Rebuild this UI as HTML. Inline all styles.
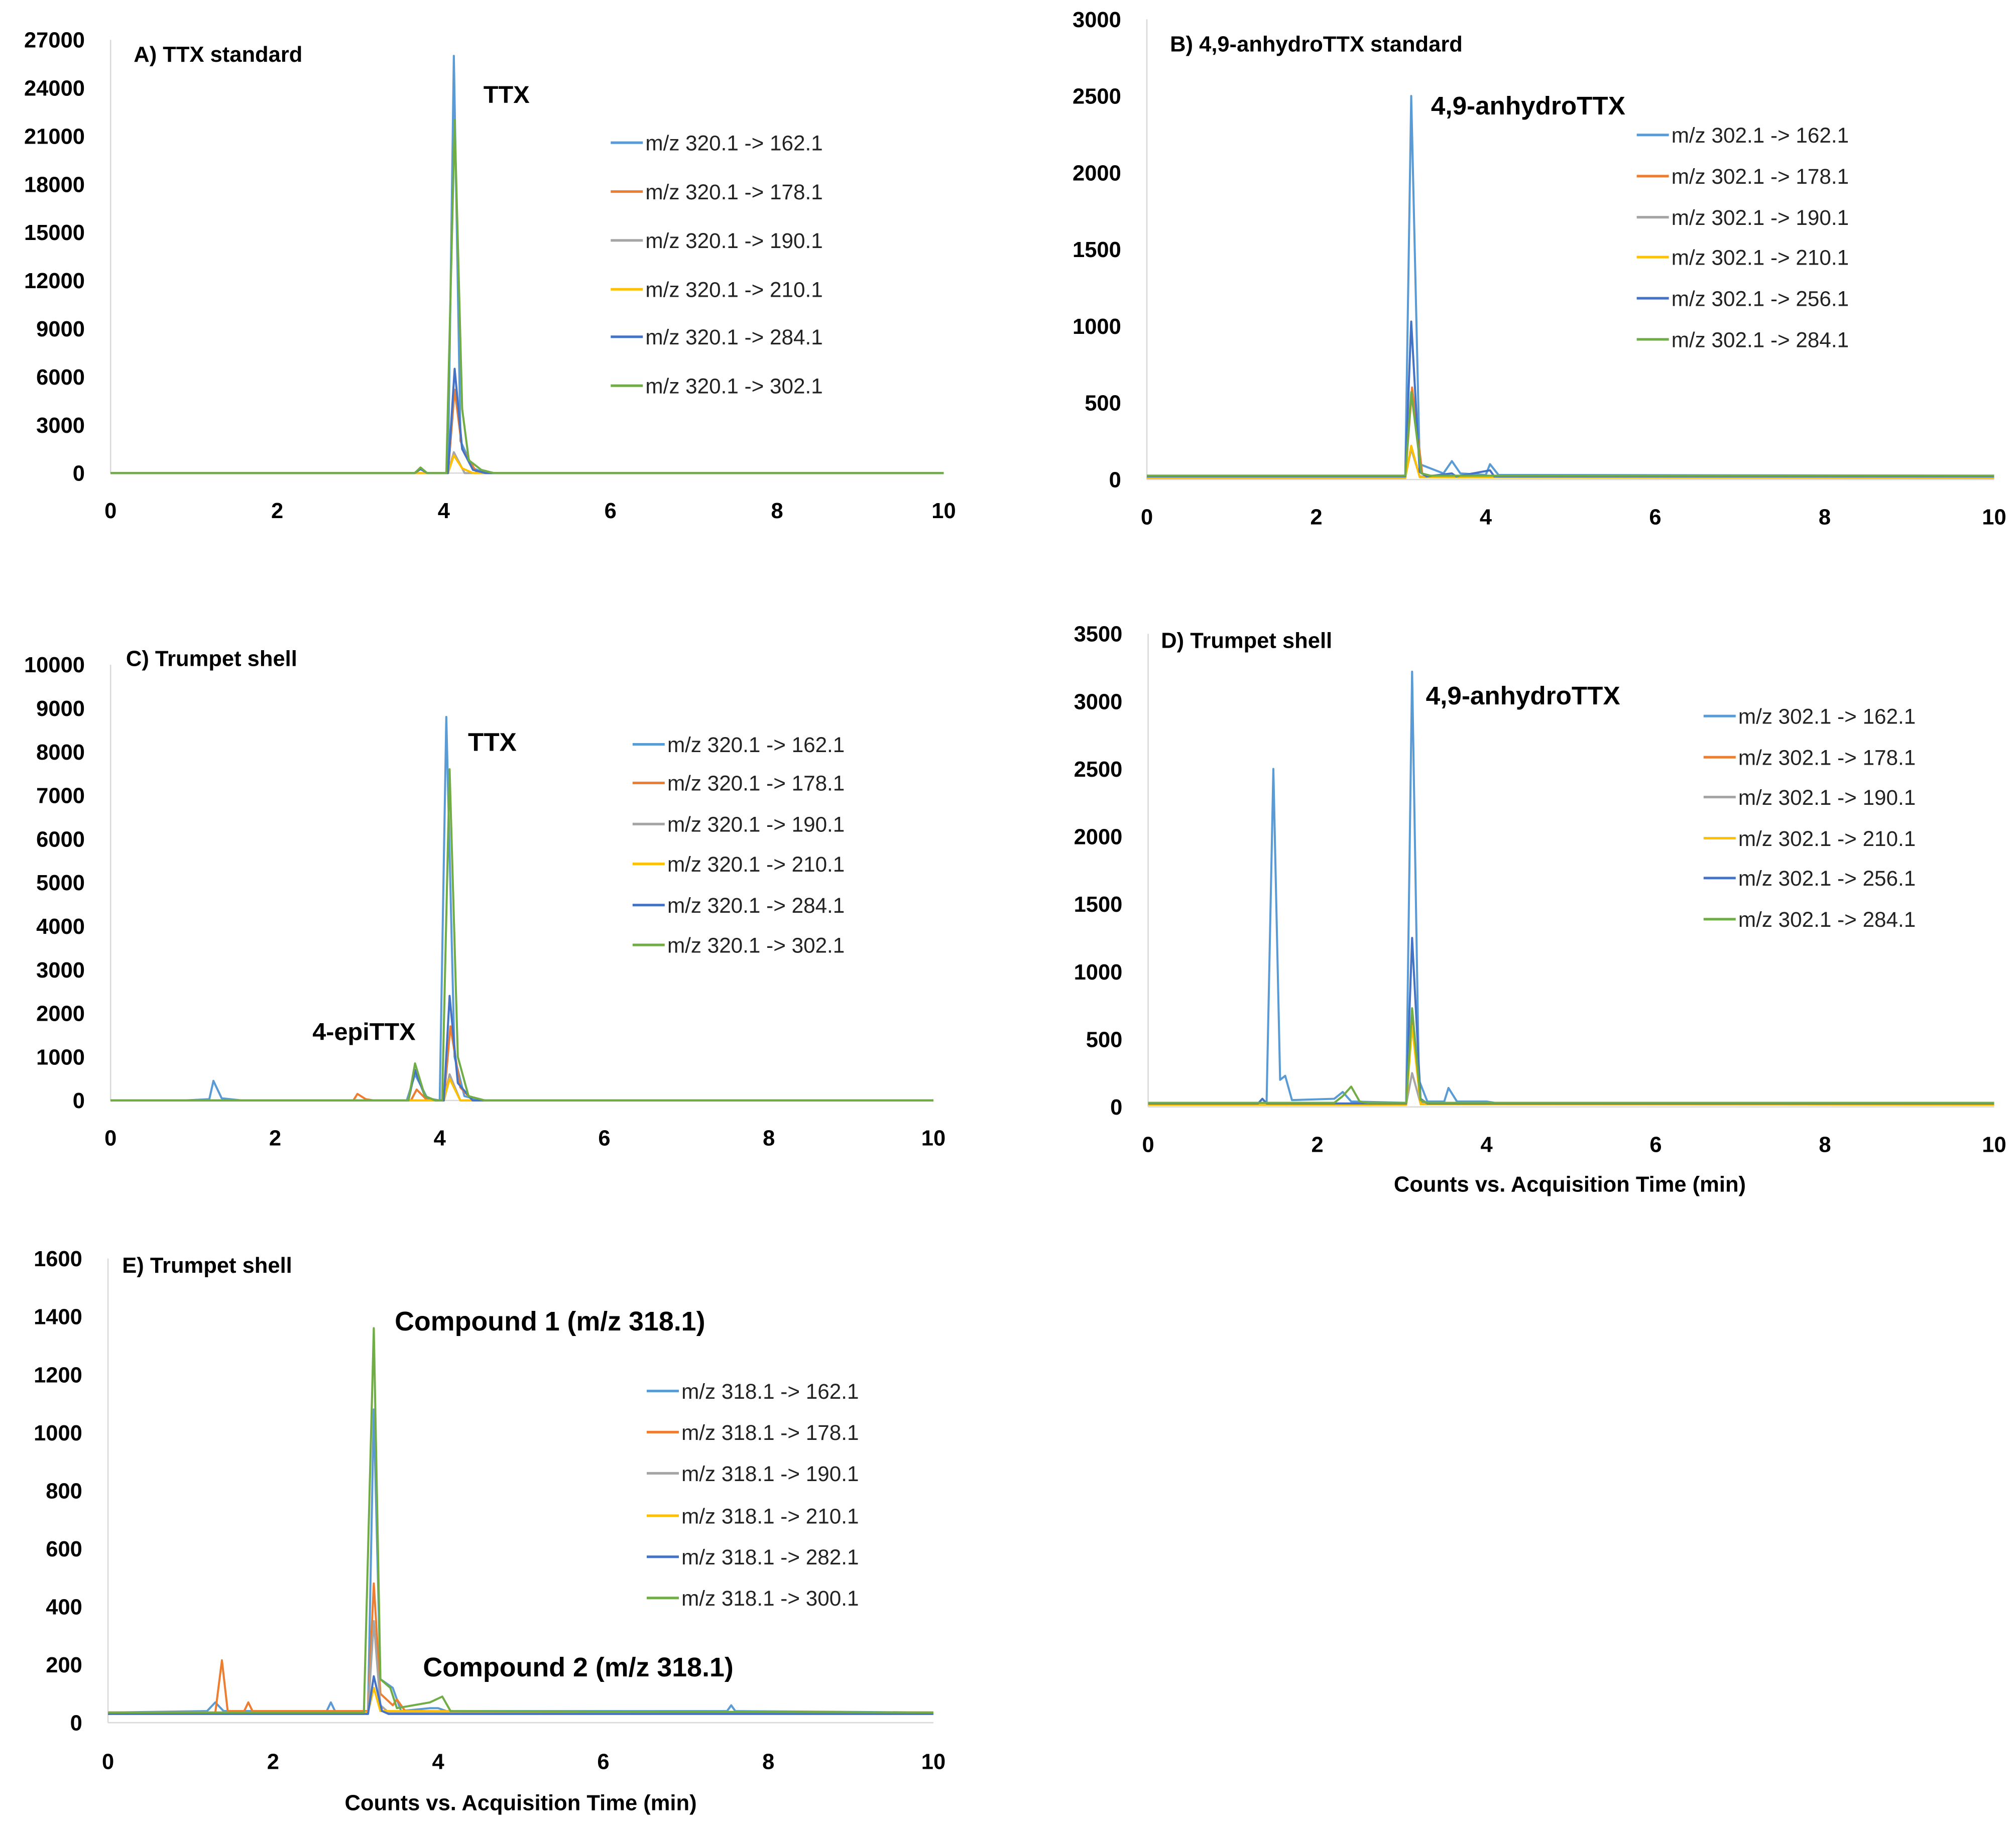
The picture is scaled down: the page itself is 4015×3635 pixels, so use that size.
<!DOCTYPE html>
<html><head><meta charset="utf-8"><style>
html,body{margin:0;padding:0;background:#fff;}
svg{display:block;}
text{font-family:"Liberation Sans",sans-serif;}
</style></head><body>
<svg id="fig" width="4015" height="3635" viewBox="0 0 1568 1419.6" preserveAspectRatio="none" xmlns="http://www.w3.org/2000/svg"></svg>
<script>
const colors = ["#5B9BD5","#ED7D31","#A5A5A5","#FFC000","#4472C4","#70AD47"];
const xTicks = [0,2,4,6,8,10];

const legendA = ["m/z 320.1 -> 162.1","m/z 320.1 -> 178.1","m/z 320.1 -> 190.1","m/z 320.1 -> 210.1","m/z 320.1 -> 284.1","m/z 320.1 -> 302.1"];
const legendB = ["m/z 302.1 -> 162.1","m/z 302.1 -> 178.1","m/z 302.1 -> 190.1","m/z 302.1 -> 210.1","m/z 302.1 -> 256.1","m/z 302.1 -> 284.1"];
const legendE = ["m/z 318.1 -> 162.1","m/z 318.1 -> 178.1","m/z 318.1 -> 190.1","m/z 318.1 -> 210.1","m/z 318.1 -> 282.1","m/z 318.1 -> 300.1"];

const yTicksA = [0,3000,6000,9000,12000,15000,18000,21000,24000,27000];
const yTicksB = [0,500,1000,1500,2000,2500,3000];
const yTicksC = [0,1000,2000,3000,4000,5000,6000,7000,8000,9000,10000];
const yTicksD = [0,500,1000,1500,2000,2500,3000,3500];
const yTicksE = [0,200,400,600,800,1000,1200,1400,1600];

const seriesA = [
 [[0,0],[3.65,0],[3.72,300],[3.8,0],[4.05,0],[4.12,26000],[4.2,2000],[4.35,300],[4.5,0],[10,0]],
 [[0,0],[4.05,0],[4.13,5200],[4.22,1500],[4.4,0],[10,0]],
 [[0,0],[4.05,0],[4.12,1300],[4.25,0],[10,0]],
 [[0,0],[4.05,0],[4.12,1100],[4.22,300],[4.35,0],[10,0]],
 [[0,0],[3.65,0],[3.72,250],[3.8,0],[4.05,0],[4.13,6500],[4.22,1500],[4.35,200],[4.5,0],[10,0]],
 [[0,0],[3.65,0],[3.72,350],[3.8,0],[4.03,0],[4.13,22000],[4.22,4000],[4.3,800],[4.45,200],[4.6,0],[10,0]]
];
const seriesB = [
 [[0,25],[3.05,25],[3.12,2500],[3.22,100],[3.5,40],[3.6,120],[3.7,40],[4.0,30],[4.05,100],[4.15,30],[10,25]],
 [[0,20],[3.05,20],[3.13,600],[3.25,40],[3.35,20],[10,20]],
 [[0,15],[3.05,15],[3.12,200],[3.22,20],[10,15]],
 [[0,10],[3.05,10],[3.12,220],[3.22,15],[10,10]],
 [[0,20],[3.05,20],[3.12,1030],[3.22,50],[3.3,20],[3.6,40],[3.65,20],[4.05,60],[4.1,20],[10,20]],
 [[0,25],[3.05,25],[3.12,570],[3.24,40],[3.35,25],[10,25]]
];
const seriesC = [
 [[0,0],[0.9,0],[1.2,30],[1.25,450],[1.35,50],[1.6,0],[3.6,0],[3.7,600],[3.85,50],[4.0,0],[4.08,8800],[4.18,1000],[4.3,100],[4.5,0],[10,0]],
 [[0,0],[2.95,0],[3.0,150],[3.1,30],[3.2,0],[3.65,0],[3.72,250],[3.85,0],[4.05,0],[4.13,1700],[4.25,300],[4.4,0],[10,0]],
 [[0,0],[4.05,0],[4.12,600],[4.25,0],[10,0]],
 [[0,0],[4.05,0],[4.12,500],[4.25,0],[10,0]],
 [[0,0],[3.62,0],[3.7,700],[3.82,100],[3.95,0],[4.05,0],[4.12,2400],[4.22,400],[4.4,0],[10,0]],
 [[0,0],[3.62,0],[3.7,850],[3.82,100],[3.95,0],[4.03,0],[4.12,7600],[4.22,1000],[4.35,100],[4.55,0],[10,0]]
];
const seriesD = [
 [[0,30],[1.4,30],[1.48,2500],[1.56,200],[1.62,230],[1.7,50],[2.2,60],[2.3,110],[2.4,40],[3.05,30],[3.12,3220],[3.2,200],[3.3,40],[3.5,40],[3.55,140],[3.65,40],[4.0,40],[4.1,30],[10,30]],
 [[0,25],[3.05,25],[3.12,650],[3.22,40],[3.3,25],[10,25]],
 [[0,20],[3.05,20],[3.12,250],[3.22,25],[10,20]],
 [[0,15],[3.05,15],[3.12,600],[3.22,20],[10,15]],
 [[0,25],[1.3,25],[1.35,60],[1.4,25],[3.05,25],[3.12,1250],[3.22,60],[3.3,25],[10,25]],
 [[0,30],[2.2,30],[2.3,80],[2.4,150],[2.5,40],[2.6,30],[3.05,30],[3.12,730],[3.22,50],[3.3,30],[10,30]]
];
const seriesE = [
 [[0,35],[1.2,40],[1.3,70],[1.4,40],[2.65,40],[2.7,70],[2.75,40],[3.15,40],[3.22,1080],[3.3,150],[3.45,120],[3.55,40],[3.9,50],[4.0,50],[4.1,40],[7.5,40],[7.55,60],[7.6,40],[10,35]],
 [[0,35],[1.3,35],[1.38,215],[1.45,40],[1.65,40],[1.7,70],[1.75,40],[3.15,40],[3.22,480],[3.3,100],[3.45,60],[3.5,80],[3.6,40],[10,35]],
 [[0,35],[3.15,35],[3.22,350],[3.3,60],[3.4,35],[10,35]],
 [[0,35],[3.15,35],[3.22,120],[3.3,40],[10,35]],
 [[0,30],[3.15,30],[3.22,160],[3.32,40],[3.4,30],[10,30]],
 [[0,35],[3.1,35],[3.22,1360],[3.3,150],[3.42,120],[3.5,50],[3.9,70],[4.05,90],[4.15,40],[10,35]]
];

const NS = "http://www.w3.org/2000/svg";
const svg = document.getElementById('fig');
function mk(tag, attrs, parent, txt){
  const e = document.createElementNS(NS, tag);
  for (const k in attrs) e.setAttribute(k, attrs[k]);
  if (txt !== undefined) e.textContent = txt;
  parent.appendChild(e);
  return e;
}

function panel(cfg){
  const g = mk('g', {}, svg);
  
  
  const ymax = cfg.yTicks[cfg.yTicks.length-1];
  const X = v => cfg.x0 + (cfg.x1 - cfg.x0) * v / 10;
  const Y = v => cfg.y0 - (cfg.y0 - cfg.yTop) * v / ymax;
  const ax = mk('line', {x1:cfg.x0, y1:cfg.yTop, x2:cfg.x0, y2:cfg.y0, stroke:'#d9d9d9', 'stroke-width':1}, g);
  
  
  const bx = mk('line', {x1:cfg.x0, y1:cfg.y0, x2:cfg.x1, y2:cfg.y0, stroke:'#d9d9d9', 'stroke-width':1}, g);
  
  
  cfg.yTicks.forEach(t => {
    const tx = mk('text', {x:cfg.x0 - 20, y:Y(t) + 6, 'text-anchor':'end', 'font-size':17, 'font-weight':'bold', fill:'#000'}, g, String(t));
    
    
  });
  xTicks.forEach(t => {
    const tx = mk('text', {x:X(t), y:cfg.xLabelY + 6, 'text-anchor':'middle', 'font-size':17, 'font-weight':'bold', fill:'#000'}, g, String(t));
    
    
  });
  cfg.series.forEach((s, i) => {
    const d = s.map((p, j) => (j ? 'L' : 'M') + X(p[0]).toFixed(2) + ' ' + Y(p[1]).toFixed(2)).join(' ');
    const pth = mk('path', {d:d, fill:'none', stroke:colors[i], 'stroke-width':1.6, 'stroke-linejoin':'round'}, g);
    
    
  });
  const ti = mk('text', {x:cfg.title[1], y:cfg.title[2] + 6, 'font-size':17, 'font-weight':'bold', fill:'#000'}, g, cfg.title[0]);
  
  
  cfg.annots.forEach(a => {
    const at = mk('text', {x:a[1], y:a[2] + 7, 'font-size':a[3], 'font-weight':'bold', fill:'#000'}, g, a[0]);
    
    
  });
  cfg.legend.forEach((lab, i) => {
    const ly = cfg.legRows[i];
    const ll = mk('line', {x1:cfg.legX, y1:ly, x2:cfg.legX + 25, y2:ly, stroke:colors[i], 'stroke-width':2}, g);
    
    
    const lt = mk('text', {x:cfg.legX + 27, y:ly + 6, 'font-size':16.5, fill:'#222'}, g, lab);
    
    
  });
  if (cfg.xTitle) {
    const xt = mk('text', {x:cfg.xTitle[0], y:cfg.xTitle[1] + 6, 'text-anchor':'middle', 'font-size':17, 'font-weight':'bold', fill:'#000'}, g, 'Counts vs. Acquisition Time (min)');
    
    
  }
}

panel({id:'panel-a', x0:86, x1:734, y0:368, yTop:31, xLabelY:397, yTicks:yTicksA, series:seriesA,
  title:['A) TTX standard',104,42], annots:[['TTX',376,73,19]], legend:legendA, legX:475,
  legRows:[111,149,187,225,262,300]});
panel({id:'panel-b', x0:892, x1:1551, y0:373, yTop:15, xLabelY:402, yTicks:yTicksB, series:seriesB,
  title:['B) 4,9-anhydroTTX standard',910,34], annots:[['4,9-anhydroTTX',1113,82,20]], legend:legendB, legX:1273,
  legRows:[105,137,169,200,232,264]});
panel({id:'panel-c', x0:86, x1:726, y0:856, yTop:517, xLabelY:885, yTicks:yTicksC, series:seriesC,
  title:['C) Trumpet shell',98,512], annots:[['TTX',364,577,20],['4-epiTTX',243,802,19]], legend:legendA, legX:492,
  legRows:[579,609,641,672,704,735]});
panel({id:'panel-d', x0:893, x1:1551, y0:861, yTop:493, xLabelY:890, yTicks:yTicksD, series:seriesD,
  title:['D) Trumpet shell',903,498], annots:[['4,9-anhydroTTX',1109,541,20]], legend:legendB, legX:1325,
  legRows:[557,589,620,652,683,715], xTitle:[1221,921]});
panel({id:'panel-e', x0:84, x1:726, y0:1340, yTop:979, xLabelY:1370, yTicks:yTicksE, series:seriesE,
  title:['E) Trumpet shell',95,984], annots:[['Compound 1 (m/z 318.1)',307,1028,21],['Compound 2 (m/z 318.1)',329,1297,21]], legend:legendE, legX:503,
  legRows:[1082,1114,1146,1179,1211,1243], xTitle:[405,1402]});
</script>
</body></html>
